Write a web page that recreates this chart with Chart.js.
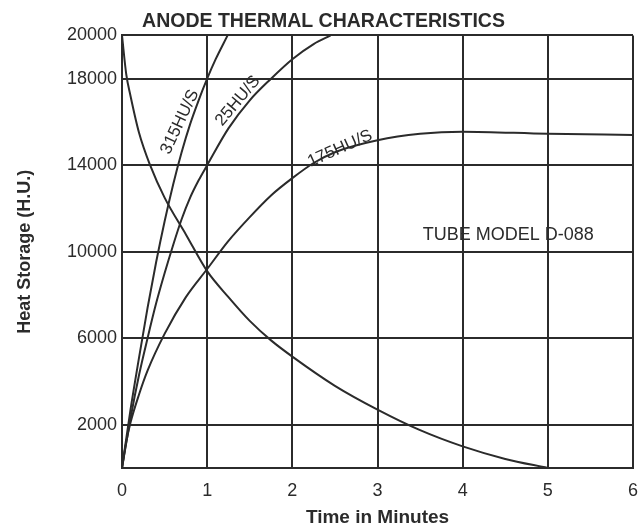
<!DOCTYPE html>
<html>
<head>
<meta charset="utf-8">
<script src="https://cdn.jsdelivr.net/npm/chart.js@4.4.1/dist/chart.umd.min.js"></script>
<style>
  html, body { margin: 0; padding: 0; background: #fff; }
  #wrap { width: 644px; height: 529px; position: relative; }
</style>
</head>
<body>
<div id="wrap"><canvas id="anodeChart"></canvas></div>
<script>
// Values (minutes vs heat units)
const yTickValues = [0, 2000, 6000, 10000, 14000, 18000, 20000];

const t315 = [0, 0.1, 0.2, 0.3, 0.4, 0.5, 0.6, 0.7, 0.8, 0.9, 1.0, 1.1, 1.24];
const hu315 = [0, 2700, 5100, 7400, 9500, 11400, 13100, 14600, 15900, 17000, 18000, 18900, 20000];

const t25 = [0, 0.1, 0.2, 0.3, 0.4, 0.5, 0.6, 0.7, 0.8, 0.9, 1.0, 1.25, 1.5, 1.75, 2.0, 2.25, 2.45];
const hu25 = [0, 2300, 4300, 6000, 7600, 9000, 10300, 11500, 12500, 13300, 14000, 15700, 17000, 18000, 18900, 19600, 20000];

const t175 = [0, 0.05, 0.1, 0.2, 0.3, 0.5, 0.75, 1.0, 1.25, 1.5, 1.75, 2.0, 2.25, 2.5, 3.0, 3.5, 4.0, 5.0, 6.0];
const hu175 = [0, 1200, 2100, 3400, 4500, 6200, 7900, 9200, 10500, 11600, 12600, 13400, 14100, 14600, 15150, 15450, 15550, 15450, 15400];

const tCool = [0, 0.05, 0.1, 0.2, 0.33, 0.5, 0.75, 1.0, 1.25, 1.5, 1.75, 2.0, 2.5, 3.0, 3.5, 4.0, 4.5, 5.0];
const huCool = [20000, 18200, 17200, 15500, 14000, 12500, 10800, 9100, 7900, 6800, 5900, 5150, 3800, 2700, 1750, 1000, 420, 0];

const curveNames = ['315HU/S', '25HU/S', '175HU/S', 'Cooling'];

const pts = (xs, ys) => xs.map((x, i) => ({ x, y: ys[i] }));
const INK = '#2b2b2b';
const FONT = '"Liberation Sans", Arial, Helvetica, sans-serif';

function line(label, xs, ys) {
  return {
    label,
    data: pts(xs, ys),
    borderColor: INK,
    borderWidth: 2,
    pointRadius: 0,
    fill: false,
    cubicInterpolationMode: 'monotone'
  };
}

// text written on the plot itself (curve names + tube model)
const plotText = {
  id: 'plotText',
  afterDatasetsDraw(chart) {
    const { ctx, scales: { x, y } } = chart;
    const items = [
      { text: curveNames[0], at: [0.68, 16000], rot: -65, size: 17, align: 'center' },
      { text: curveNames[1], at: [1.36, 16970], rot: -50, size: 17, align: 'center' },
      { text: curveNames[2], at: [2.56, 14760], rot: -24, size: 17, align: 'center' },
      { text: 'TUBE MODEL D-088', at: [3.53, 10760], rot: 0, size: 18, align: 'left' }
    ];
    ctx.save();
    ctx.fillStyle = INK;
    ctx.textBaseline = 'middle';
    for (const it of items) {
      ctx.save();
      ctx.translate(x.getPixelForValue(it.at[0]), y.getPixelForValue(it.at[1]));
      ctx.rotate(it.rot * Math.PI / 180);
      ctx.font = `${it.size}px ${FONT}`;
      ctx.textAlign = it.align;
      ctx.fillText(it.text, 0, 0);
      ctx.restore();
    }
    ctx.restore();
  }
};

new Chart(document.getElementById('anodeChart'), {
  type: 'line',
  data: {
    datasets: [
      line(curveNames[0], t315, hu315),
      line(curveNames[1], t25, hu25),
      line(curveNames[2], t175, hu175),
      line(curveNames[3], tCool, huCool)
    ]
  },
  options: {
    responsive: true,
    maintainAspectRatio: false,
    animation: false,
    layout: { padding: { left: 14, right: 11, top: 0, bottom: 0 } },
    plugins: {
      legend: { display: false },
      tooltip: { enabled: false },
      title: {
        display: true,
        text: 'ANODE THERMAL CHARACTERISTICS',
        color: INK,
        font: { family: FONT, size: 19.5, weight: 'bold' },
        padding: { top: 10, bottom: 2 }
      }
    },
    scales: {
      x: {
        type: 'linear',
        min: 0,
        max: 6,
        ticks: { stepSize: 1, color: INK, padding: 12, font: { family: FONT, size: 18 } },
        grid: { color: INK, lineWidth: 2, drawTicks: false },
        border: { color: INK, width: 2 },
        title: {
          display: true,
          text: 'Time in Minutes',
          color: INK,
          font: { family: FONT, size: 19, weight: 'bold' },
          padding: { top: 0, bottom: 0 }
        },
        afterFit(scale) { scale.height = 61; scale.paddingRight = 0; }
      },
      y: {
        type: 'linear',
        min: 0,
        max: 20000,
        afterBuildTicks(scale) { scale.ticks = yTickValues.map(v => ({ value: v })); },
        ticks: {
          color: INK,
          padding: 5,
          font: { family: FONT, size: 18 },
          callback: v => (v === 0 ? '' : String(v))
        },
        grid: { color: INK, lineWidth: 2, drawTicks: false },
        border: { color: INK, width: 2 },
        title: {
          display: true,
          text: 'Heat Storage (H.U.)',
          color: INK,
          font: { family: FONT, size: 18, weight: 'bold' },
          padding: { top: 0, bottom: 0 }
        },
        afterFit(scale) { scale.width = 108; }
      }
    }
  },
  plugins: [plotText]
});
</script>
</body>
</html>
